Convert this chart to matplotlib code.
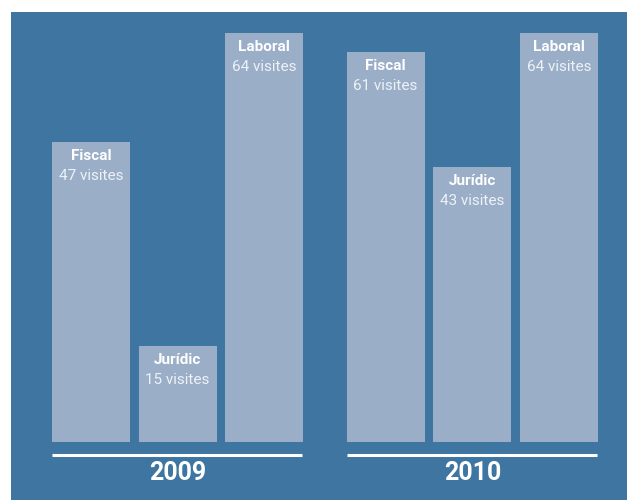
import matplotlib
matplotlib.use('Agg')
import matplotlib.pyplot as plt

W, H = 627, 500
BLUE = '#3f75a1'
BAR = '#9aaec8'
plt.rcParams['font.family'] = ['Roboto', 'DejaVu Sans']

years = ['2009', '2010']
categories = ['Fiscal', 'Jurídic', 'Laboral']
visits_2009 = [47, 15, 64]
visits_2010 = [61, 43, 64]

GROUP_OFFSET = 3.4
BAR_WIDTH = 0.9


def px(x0, y0, x1, y1):
    # pixel box (top-left origin) -> figure fraction rect
    return [x0 / W, 1 - y1 / H, (x1 - x0) / W, (y1 - y0) / H]


fig = plt.figure(figsize=(W / 100, H / 100), dpi=100, facecolor='white')

panel = fig.add_axes(px(11, 12, W, H))
panel.set_facecolor(BLUE)
panel.set_xticks([])
panel.set_yticks([])
for s in panel.spines.values():
    s.set_visible(False)

# bars axes: baseline at y=442px, 6.39 px per visit
unit = 6.39
ymax = 66
ax = fig.add_axes(px(52, 442 - ymax * unit, 598, 442))
ax.patch.set_alpha(0)
ax.set_xlim(-BAR_WIDTH / 2, 2 + GROUP_OFFSET + BAR_WIDTH / 2)
ax.set_ylim(0, ymax)
ax.axis('off')

for g, (year, vals) in enumerate(zip(years, [visits_2009, visits_2010])):
    xs = [i + g * GROUP_OFFSET for i in range(len(categories))]
    ax.bar(xs, vals, width=BAR_WIDTH, color=BAR, linewidth=0)
    for x, cat, v in zip(xs, categories, vals):
        ax.text(x, v - 14 / unit, cat, ha='center', va='center', color='white',
                fontsize=11, fontweight='bold')
        ax.text(x, v - 34 / unit, f'{v} visites', ha='center', va='center',
                color='#eef2f7', fontsize=11)
    ax.plot([xs[0] - BAR_WIDTH / 2, xs[-1] + BAR_WIDTH / 2 - 0.01], [-13 / unit] * 2,
            color='white', lw=2.2, clip_on=False, solid_capstyle='butt')
    ax.text(xs[1], -31 / unit, year, ha='center', va='center', color='white',
            fontsize=18, fontweight='bold', clip_on=False)

fig.savefig('out.png', dpi=100, facecolor='white')
